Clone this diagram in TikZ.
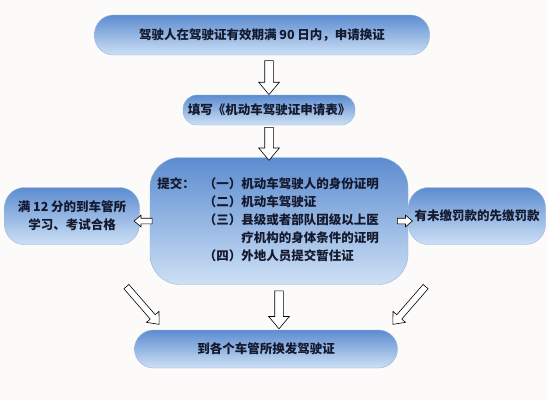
\documentclass[tikz,border=0pt]{standalone}
\usepackage{fontspec}
\newfontfamily\cjk{Noto Sans CJK SC}
\definecolor{bluetop}{RGB}{92, 140, 208}
\definecolor{bluemid}{RGB}{165, 196, 235}
\definecolor{bluebot}{RGB}{205, 224, 245}
\definecolor{blueedge}{RGB}{150, 180, 220}
\definecolor{textnavy}{RGB}{20, 25, 45}
\definecolor{paper}{RGB}{253, 250, 250}
\usetikzlibrary{shapes.arrows, calc}

\begin{document}
\begin{tikzpicture}[x=1pt, y=-1pt,
  pill/.style={draw=blueedge, top color=bluetop, middle color=bluemid, bottom color=bluebot,
    align=center, inner sep=0pt, text=textnavy, font=\cjk\bfseries\fontsize{12.5}{18}\selectfont},
  blockarrow/.style={single arrow, draw=black, fill=white, line width=0.6pt,
    inner xsep=0pt, inner ysep=4pt, single arrow head extend=6pt, single arrow tip angle=80,
    sloped, allow upside down, midway},
  smallarrow/.style={blockarrow, inner ysep=2.5pt, single arrow head extend=3pt}
]
  \fill[paper] (0,0) rectangle (548,400);

  % boxes
  \node[pill, rounded corners=19pt, minimum width=335pt, minimum height=40pt] (apply) at (262,35)
    {驾驶人在驾驶证有效期满 90 日内，申请换证};
  \node[pill, rounded corners=14pt, minimum width=172pt, minimum height=30pt] (form) at (269,110)
    {填写《机动车驾驶证申请表》};
  \node[pill, rounded corners=30pt, minimum width=258pt, minimum height=127pt] (submit) at (279,221)
    {\begin{tabular}{@{}l@{\hspace{9pt}}l@{}}
      提交：&（一）机动车驾驶人的身份证明\\
      &（二）机动车驾驶证\\
      &（三）县级或者部队团级以上医\\
      &\hphantom{（三）}疗机构的身体条件的证明\\
      &（四）外地人员提交暂住证
    \end{tabular}\hspace*{22pt}};
  \node[pill, rounded corners=20pt, minimum width=135pt, minimum height=57pt] (study) at (72,216)
    {满 12 分的到车管所\\学习、考试合格};
  \node[pill, rounded corners=20pt, minimum width=137pt, minimum height=57pt] (fine) at (477,216)
    {有未缴罚款的先缴罚款};
  \node[pill, rounded corners=19pt, minimum width=263pt, minimum height=38pt] (renew) at (266,349)
    {到各个车管所换发驾驶证};

  % ends of the slanted arrows
  \coordinate (sl1) at (125,285);
  \coordinate (sl2) at (158,323);
  \coordinate (sr1) at (427,285);
  \coordinate (sr2) at (394,323);

  % arrows
  \path (form.north |- apply.south) -- (form.north) node[blockarrow, minimum height=34pt] {};
  \path (form.north |- form.south) -- (form.north |- submit.north) node[blockarrow, minimum height=33pt] {};
  \path (submit.south) -- (submit.south |- renew.north) node[blockarrow, minimum height=38pt] {};
  \path (submit.west) -- (submit.west -| study.east) node[smallarrow, minimum height=18pt] {};
  \path ($(submit.east)+(-10,0)$) -- (submit.east -| fine.west) node[smallarrow, minimum height=15pt] {};
  \path (sl1) -- (sl2) node[blockarrow, inner ysep=3pt, single arrow head extend=5pt, minimum height=50pt] {};
  \path (sr1) -- (sr2) node[blockarrow, inner ysep=3pt, single arrow head extend=5pt, minimum height=50pt] {};
\end{tikzpicture}
\end{document}
